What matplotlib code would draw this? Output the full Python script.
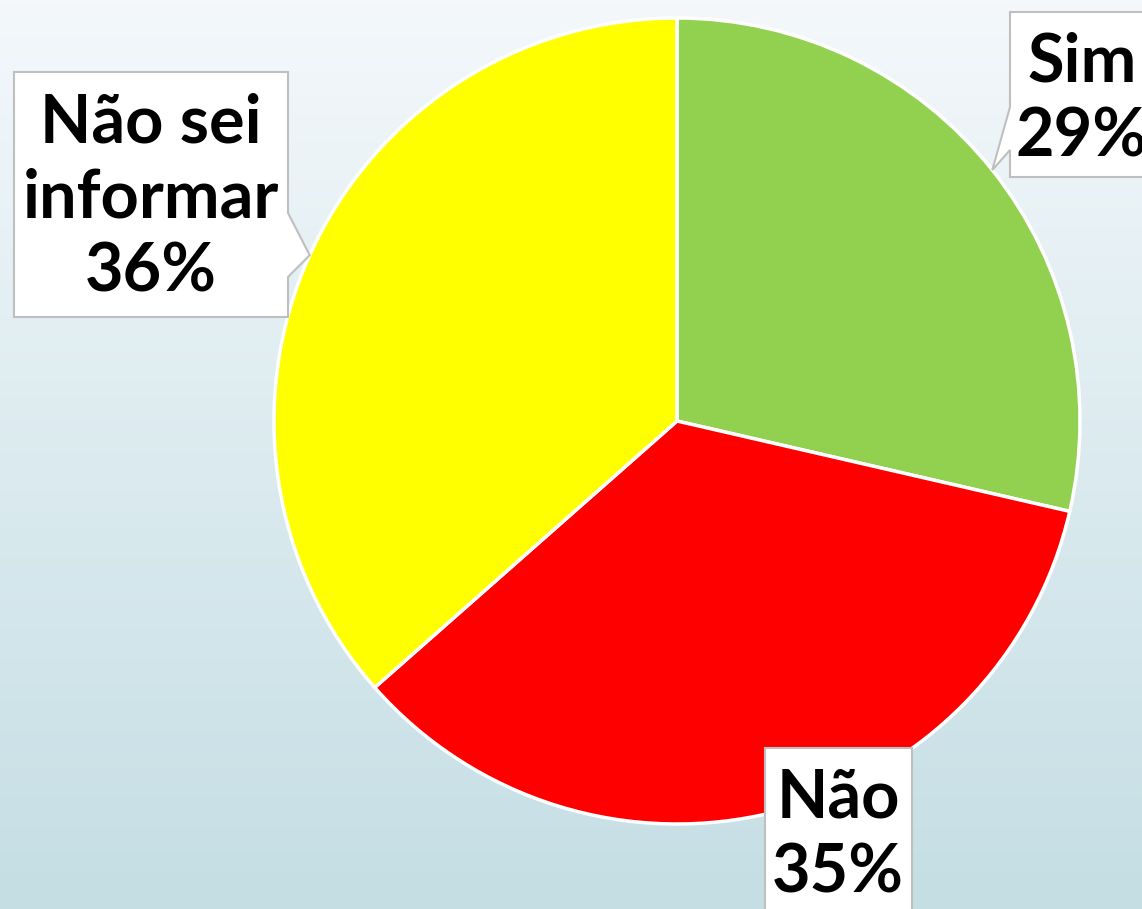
import numpy as np
from matplotlib import pyplot as plt
from matplotlib.patches import Polygon
from matplotlib.colors import LinearSegmentedColormap

# survey answers (percent)
categories = ["Sim", "Não", "Não sei\ninformar"]
values = [28.6, 34.9, 36.5]
pct_labels = ["29%", "35%", "36%"]
colors = ["#92D050", "#FF0000", "#FFFF00"]

W, H = 1142, 909
CX, CY, R = 677, 421, 403   # pie centre / radius in pixels (y from top)

fig = plt.figure(figsize=(W / 100, H / 100), dpi=100)

# background gradient
bg = fig.add_axes([0, 0, 1, 1])
cmap = LinearSegmentedColormap.from_list("bg", ["#F4F8FB", "#C4DEE4"])
grad = np.linspace(0, 1, 256).reshape(-1, 1)
bg.imshow(grad, cmap=cmap, aspect="auto", extent=[0, W, H, 0])
bg.set_xlim(0, W)
bg.set_ylim(H, 0)
bg.axis("off")

# pie axes placed so the pie sits at CX, CY with radius R
ax = fig.add_axes([(CX - R) / W, 1 - (CY + R) / H, 2 * R / W, 2 * R / H])
wedges, _ = ax.pie(values, colors=colors, startangle=90, counterclock=False,
                   wedgeprops=dict(edgecolor="white", linewidth=2.5))
ax.set_xlim(-1, 1)
ax.set_ylim(-1, 1)
ax.axis("off")

# overlay for callouts, pixel coords
ov = fig.add_axes([0, 0, 1, 1])
ov.set_xlim(0, W)
ov.set_ylim(H, 0)
ov.axis("off")


def tip(w):
    a = np.deg2rad((w.theta1 + w.theta2) / 2)
    return CX + R * np.cos(a), CY - R * np.sin(a)


def callout(x0, y0, x1, y1, side=None, base=None, point=None):
    pts = [(x0, y0), (x1, y0)]
    if side == "right":
        pts += [(x1, base[0]), point, (x1, base[1])]
    pts += [(x1, y1), (x0, y1)]
    if side == "left":
        pts += [(x0, base[1]), point, (x0, base[0])]
    ov.add_patch(Polygon(pts, closed=True, facecolor="white",
                         edgecolor="#BFBFBF", linewidth=1.5, zorder=3))


labels = [f"{c}\n{p}" for c, p in zip(categories, pct_labels)]
font = dict(fontsize=48, fontweight="bold", color="black", family="Lato",
            ha="center", va="center", linespacing=1.25, zorder=4)

# Sim
callout(1010, 12, 1160, 177, side="left", base=(107, 150), point=tip(wedges[0]))
ov.text(1082, 100, labels[0], **font)

# Não
callout(765, 748, 912, 930)
ov.text(838, 836, labels[1], **font)

# Não sei informar
callout(14, 72, 288, 317, side="right", base=(213, 277), point=tip(wedges[2]))
ov.text(151, 198, labels[2], **font)

fig.savefig("out.png", dpi=100)
